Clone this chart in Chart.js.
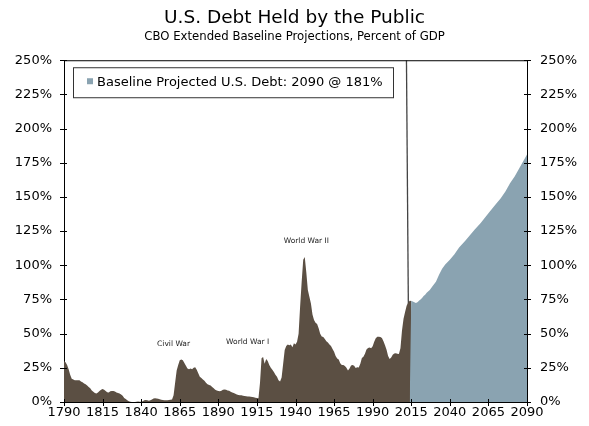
<!DOCTYPE html>
<html>
<head>
<meta charset="utf-8">
<script src="https://cdn.jsdelivr.net/npm/chart.js@4.4.0/dist/chart.umd.min.js"></script>
<style>
  html, body { margin: 0; padding: 0; background: #fff; }
  #wrap { width: 589px; height: 426px; }
</style>
</head>
<body>
<div id="wrap"><canvas id="myChart" width="589" height="426"></canvas></div>
<script>
// Historical debt held by the public, % of GDP
const histYears = [
  1790, 1791, 1792, 1793, 1794, 1795, 1796, 1797, 1798, 1799,
  1800, 1801, 1802, 1803, 1804, 1805, 1806, 1807, 1808, 1809,
  1810, 1811, 1812, 1813, 1814, 1815, 1816, 1817, 1818, 1819,
  1820, 1821, 1822, 1823, 1824, 1825, 1826, 1827, 1828, 1829,
  1830, 1831, 1832, 1833, 1834, 1835, 1836, 1837, 1838, 1839,
  1840, 1841, 1842, 1843, 1844, 1845, 1846, 1847, 1848, 1849,
  1850, 1851, 1852, 1853, 1854, 1855, 1856, 1857, 1858, 1859,
  1860, 1861, 1862, 1863, 1864, 1865, 1866, 1867, 1868, 1869,
  1870, 1871, 1872, 1873, 1874, 1875, 1876, 1877, 1878, 1879,
  1880, 1881, 1882, 1883, 1884, 1885, 1886, 1887, 1888, 1889,
  1890, 1891, 1892, 1893, 1894, 1895, 1896, 1897, 1898, 1899,
  1900, 1901, 1902, 1903, 1904, 1905, 1906, 1907, 1908, 1909,
  1910, 1911, 1912, 1913, 1914, 1915, 1916, 1917, 1918, 1919,
  1920, 1921, 1922, 1923, 1924, 1925, 1926, 1927, 1928, 1929,
  1930, 1931, 1932, 1933, 1934, 1935, 1936, 1937, 1938, 1939,
  1940, 1941, 1942, 1943, 1944, 1945, 1946, 1947, 1948, 1949,
  1950, 1951, 1952, 1953, 1954, 1955, 1956, 1957, 1958, 1959,
  1960, 1961, 1962, 1963, 1964, 1965, 1966, 1967, 1968, 1969,
  1970, 1971, 1972, 1973, 1974, 1975, 1976, 1977, 1978, 1979,
  1980, 1981, 1982, 1983, 1984, 1985, 1986, 1987, 1988, 1989,
  1990, 1991, 1992, 1993, 1994, 1995, 1996, 1997, 1998, 1999,
  2000, 2001, 2002, 2003, 2004, 2005, 2006, 2007, 2008, 2009,
  2010, 2011, 2012, 2013, 2014, 2015, 2016
];
const histDebt = [
  30, 29, 27, 24, 20, 17, 16.5, 16, 16, 16,
  16, 15, 14.5, 13.5, 13, 12, 11, 10, 8.5, 7.5,
  6.5, 6.3, 7, 8, 9, 9.5, 9, 8, 7.2, 7,
  7.8, 8, 8, 7.6, 7, 6.6, 6.3, 5.5, 4.5, 3,
  2.2, 1.2, 0.5, 0.2, 0, 0, 0, 0.1, 0.3, 0.2,
  0.2, 0.6, 1.2, 1.5, 1.2, 1.0, 1.2, 1.8, 2.5, 2.8,
  2.6, 2.3, 2.0, 1.6, 1.4, 1.2, 1.2, 1.2, 1.5, 1.6,
  1.8, 5, 14, 23, 27, 30.5, 31, 30.5, 28.5, 26.5,
  24.5, 24, 24.5, 24, 25, 25.5, 23.5, 21, 18.5, 17.5,
  16.5, 15.5, 14, 13, 12.5, 12, 11, 10, 9, 8.5,
  8, 7.8, 8.2, 9, 9.2, 9, 8.5, 8.2, 7.5, 7,
  6.5, 6, 5.5, 5.2, 5, 5, 4.6, 4.3, 4.2, 4,
  4, 3.9, 3.6, 3.5, 3.2, 3, 2.8, 14, 32, 33,
  28, 31.5, 30, 27, 25, 23.5, 22, 20, 18.5, 16,
  15, 18, 28, 38, 41, 42, 41.5, 42, 40, 43,
  42, 44, 50, 70, 88, 104, 106, 95, 82, 77,
  72, 64, 60, 58, 57, 54, 50, 48, 47.5, 46,
  44.5, 43.5, 42, 41, 38.7, 36.7, 33.7, 31.8, 31, 28.3,
  27, 27.1, 26.4, 25.1, 23.1, 24.5, 26.7, 27.1, 26.6, 24.9,
  25.5, 25.2, 27.9, 32.1, 33.1, 35.3, 38.4, 39.5, 39.8, 39.3,
  40.8, 44, 46.6, 47.8, 47.7, 47.5, 46.8, 44.5, 41.6, 38.2,
  33.6, 31.4, 32.5, 34.5, 35.5, 35.6, 35.3, 35.2, 39.3, 52.3,
  60.9, 65.9, 70.4, 72.6, 74.1, 73.8, 0
];

// CBO extended baseline projection, % of GDP
const projYears = [
  2014, 2015, 2016, 2017, 2018, 2019, 2020, 2021, 2022, 2023, 2024, 2025,
  2027, 2029, 2031, 2033, 2035, 2037, 2040, 2043, 2046, 2050,
  2053, 2056, 2060, 2065, 2070, 2073, 2076, 2079, 2082, 2085, 2088, 2090
];
const projDebt = [
  0, 74, 73.5, 73, 72.5, 73, 74, 75, 76, 77.5, 78.5, 80,
  82, 85, 88, 93, 97.5, 100.5, 104, 108, 113, 118,
  122, 126, 131, 138, 145, 149, 154, 160, 165, 171, 177, 181
];

// slanted separator line between history and projection
const dividerYears = [2011.9, 2013.6];
const dividerVals = [250, 0];

const xTicks = [1790, 1815, 1840, 1865, 1890, 1915, 1940, 1965, 1990, 2015, 2040, 2065, 2090];
const yTicks = [0, 25, 50, 75, 100, 125, 150, 175, 200, 225, 250];

const notes = [
  { text: 'Civil War', x: 1861, y: 42.4 },
  { text: 'World War I', x: 1909, y: 43.9 },
  { text: 'World War II', x: 1947, y: 117.7 }
];
const legendText = 'Baseline Projected U.S. Debt: 2090 @ 181%';

const brown = '#5b4f43';
const blue = '#8aa3b1';
const FONT = '"DejaVu Sans", Verdana, sans-serif';

const toPoints = (xs, ys) => xs.map((x, i) => ({ x: x, y: ys[i] }));

// crossing tick marks, top border, notes and inside legend box
const decorPlugin = {
  id: 'decor',
  afterDraw(chart) {
    const ctx = chart.ctx;
    const a = chart.chartArea;
    const sx = chart.scales.x, sy = chart.scales.y;
    ctx.save();
    ctx.strokeStyle = '#000';
    ctx.lineWidth = 1;
    ctx.beginPath();
    ctx.moveTo(a.left, a.top + 0.5);
    ctx.lineTo(a.right, a.top + 0.5);
    xTicks.forEach(t => {
      const px = Math.round(sx.getPixelForValue(t)) + 0.5;
      ctx.moveTo(px, a.bottom - 3);
      ctx.lineTo(px, a.bottom + 4);
    });
    yTicks.forEach(t => {
      const py = Math.round(sy.getPixelForValue(t)) + 0.5;
      ctx.moveTo(a.left - 4, py);
      ctx.lineTo(a.left + 3, py);
      ctx.moveTo(a.right - 3, py);
      ctx.lineTo(a.right + 4, py);
    });
    ctx.stroke();

    // annotations
    ctx.fillStyle = '#222';
    ctx.font = '7.5px ' + FONT;
    ctx.textAlign = 'center';
    ctx.textBaseline = 'middle';
    notes.forEach(n => {
      ctx.fillText(n.text, sx.getPixelForValue(n.x), sy.getPixelForValue(n.y));
    });

    // legend box
    const bx = a.left + 9, by = a.top + 7;
    ctx.strokeStyle = '#333';
    ctx.strokeRect(bx + 0.5, by + 0.5, 320, 30);
    ctx.fillStyle = blue;
    ctx.fillRect(bx + 14, by + 11, 6, 6);
    ctx.fillStyle = '#000';
    ctx.font = '13px ' + FONT;
    ctx.textAlign = 'left';
    ctx.fillText(legendText, bx + 24, by + 15);
    ctx.restore();
  }
};

const ctx = document.getElementById('myChart').getContext('2d');
new Chart(ctx, {
  type: 'line',
  data: {
    datasets: [
      {
        label: 'Projection',
        data: toPoints(projYears, projDebt),
        fill: 'origin',
        backgroundColor: blue,
        borderWidth: 0,
        pointRadius: 0,
        tension: 0
      },
      {
        label: 'History',
        data: toPoints(histYears, histDebt),
        fill: 'origin',
        backgroundColor: brown,
        borderWidth: 0,
        pointRadius: 0,
        tension: 0
      },
      {
        label: 'Divider',
        data: toPoints(dividerYears, dividerVals),
        fill: false,
        borderColor: '#444',
        borderWidth: 1.3,
        pointRadius: 0
      }
    ]
  },
  plugins: [decorPlugin],
  options: {
    responsive: false,
    animation: false,
    layout: { padding: 0 },
    scales: {
      x: {
        type: 'linear',
        min: 1790,
        max: 2090,
        afterBuildTicks: axis => { axis.ticks = xTicks.map(v => ({ value: v })); },
        afterFit: axis => { axis.height = 24; },
        grid: { display: false, drawTicks: false },
        border: { display: true, color: '#000', width: 1 },
        ticks: {
          color: '#000',
          padding: 3,
          maxRotation: 0,
          autoSkip: false,
          font: { family: FONT, size: 13 },
          callback: v => String(v)
        }
      },
      y: {
        position: 'left',
        min: 0,
        max: 250,
        afterBuildTicks: axis => { axis.ticks = yTicks.map(v => ({ value: v })); },
        afterFit: axis => { axis.width = 64; },
        grid: { display: false, drawTicks: false },
        border: { display: true, color: '#000', width: 1 },
        ticks: {
          color: '#000',
          padding: 12,
          font: { family: FONT, size: 13 },
          callback: v => v + '%'
        }
      },
      y2: {
        display: true,
        position: 'right',
        min: 0,
        max: 250,
        afterBuildTicks: axis => { axis.ticks = yTicks.map(v => ({ value: v })); },
        afterFit: axis => { axis.width = 62; },
        grid: { display: false, drawTicks: false },
        border: { display: true, color: '#000', width: 1 },
        ticks: {
          color: '#000',
          padding: 13,
          font: { family: FONT, size: 13 },
          callback: v => v + '%'
        }
      }
    },
    plugins: {
      legend: { display: false },
      tooltip: { enabled: false },
      title: {
        display: true,
        text: 'U.S. Debt Held by the Public',
        color: '#000',
        font: { family: FONT, size: 18.5, weight: 'normal' },
        padding: { top: 7, bottom: 0 }
      },
      subtitle: {
        display: true,
        text: 'CBO Extended Baseline Projections, Percent of GDP',
        color: '#000',
        font: { family: FONT, size: 11.7, weight: 'normal' },
        padding: { top: 1, bottom: 16 }
      }
    }
  }
});
</script>
</body>
</html>
